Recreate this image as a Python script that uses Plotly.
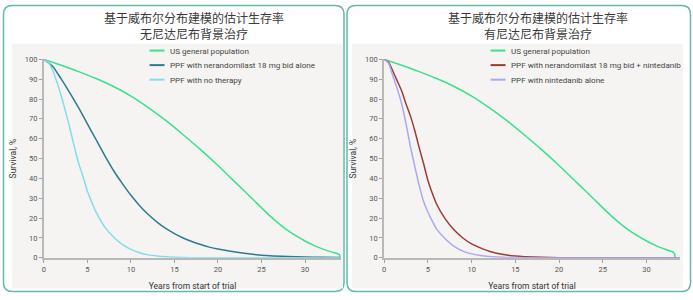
import plotly.graph_objects as go

# ---------------- data ----------------
years_us = [0, 2, 4, 6, 8, 10, 12, 14, 16, 18, 20, 22, 24, 26, 28, 30, 31, 32, 33]
surv_us = [100, 97, 93.8, 90.3, 86.3, 81.5, 75.7, 69.2, 62, 54.5, 46.5, 38, 29.5, 21, 13.8, 8.5, 6.3, 4.5, 3.0]
tail_years_left = [33.8, 33.95, 34.05]
tail_surv_left = [2.0, 1.6, 0]
tail_years_right = [33.2, 33.3, 33.8]
tail_surv_right = [2.1, 0, 0]

years_a = [0, 1, 2, 3, 4, 5, 6, 7, 8, 9, 10, 11, 12, 13, 14, 15, 16, 17, 18, 19, 20, 22, 24, 26, 28, 30, 32, 34]
surv_neran_alone = [100, 96.5, 90, 83, 75.5, 67.5, 59.5, 51.5, 44, 37.5, 31.5, 26.3, 21.8, 18, 14.8, 12.2, 10,
                    8.2, 6.7, 5.4, 4.4, 2.9, 1.8, 1.1, 0.7, 0.4, 0.25, 0.15]

years_b = [0, 0.5, 1, 1.5, 2, 2.5, 3, 3.5, 4, 4.5, 5, 5.5, 6, 7, 8, 9, 10, 11, 12, 13, 14, 15, 17, 20, 25, 34]
surv_no_therapy = [100, 98.5, 94.5, 88.5, 81.5, 73.5, 65, 56, 47.5, 41, 33.5, 28, 23, 15.5, 10.5, 6.8, 4.3, 2.6,
                   1.5, 0.9, 0.5, 0.3, 0.1, 0.03, 0, 0]

years_c = [0, 0.5, 1, 1.5, 2, 2.5, 3, 3.5, 4, 4.5, 5, 5.5, 6, 7, 8, 9, 10, 11, 12, 13, 14, 15, 16, 18, 20, 25, 33.8]
surv_neran_ninte = [100, 98.5, 94, 89, 84, 77.5, 71.5, 64, 55.5, 47.5, 39, 32.5, 27, 19.5, 14, 10, 7, 5, 3.3, 2.2,
                    1.4, 0.9, 0.6, 0.25, 0.1, 0.02, 0]

years_d = [0, 0.5, 1, 1.5, 2, 2.5, 3, 3.5, 4, 4.5, 5, 5.5, 6, 7, 8, 9, 10, 11, 12, 13, 14, 15, 17, 20, 33.8]
surv_ninte_alone = [100, 98, 91.5, 85, 77.5, 67.5, 56, 46, 36.5, 28.5, 23, 18.5, 14.5, 9.5, 5.8, 3.4, 2, 1.2, 0.7,
                    0.4, 0.2, 0.12, 0.04, 0, 0]

titles = ["基于威布尔分布建模的估计生存率<br>无尼达尼布背景治疗",
          "基于威布尔分布建模的估计生存率<br>有尼达尼布背景治疗"]
legend_left = ["US general population", "PPF with nerandomilast 18 mg bid alone", "PPF with no therapy"]
legend_right = ["US general population", "PPF with nerandomilast 18 mg bid + nintedanib", "PPF with nintedanib alone"]
y_ticks = list(range(0, 101, 10))
x_ticks = [0, 5, 10, 15, 20, 25, 30]

# ---------------- styling ----------------
W, H = 693, 300
GREEN = "#3ce08f"
TEAL = "#2e7b8b"
CYAN = "#86dbe8"
RED = "#9c3b37"
LAV = "#aaa8f2"
LATIN = "Roboto, 'Liberation Sans', sans-serif"
CJK = "'Noto Sans CJK SC', sans-serif"


def px(x):
    return x / W


def py(y):
    return (H - y) / H


def rrect(x0, y0, x1, y1, r):
    def P(x, y):
        return f"{px(x):.5f},{py(y):.5f}"
    return (f"M{P(x0 + r, y0)} L{P(x1 - r, y0)} Q{P(x1, y0)} {P(x1, y0 + r)} "
            f"L{P(x1, y1 - r)} Q{P(x1, y1)} {P(x1 - r, y1)} L{P(x0 + r, y1)} "
            f"Q{P(x0, y1)} {P(x0, y1 - r)} L{P(x0, y0 + r)} Q{P(x0, y0)} {P(x0 + r, y0)} Z")


fig = go.Figure()

line_w = 1.5


def add(x, y, name, color, xa, ya):
    fig.add_trace(go.Scatter(x=x, y=y, name=name, mode="lines",
                             line=dict(color=color, width=line_w, shape="spline", smoothing=0.6),
                             xaxis=xa, yaxis=ya, showlegend=False, hoverinfo="skip"))


# left panel
add(years_us + tail_years_left, surv_us + tail_surv_left, legend_left[0], GREEN, "x", "y")
add(years_a, surv_neran_alone, legend_left[1], TEAL, "x", "y")
add(years_b, surv_no_therapy, legend_left[2], CYAN, "x", "y")
# right panel
add(years_us + tail_years_right, surv_us + tail_surv_right, legend_right[0], GREEN, "x2", "y2")
add(years_c, surv_neran_ninte, legend_right[1], RED, "x2", "y2")
add(years_d, surv_ninte_alone, legend_right[2], LAV, "x2", "y2")

ydom = [py(261.7), py(57)]
left_dom = [px(42), px(42 + 34.15 * 8.73)]
right_dom = [px(383.3), px(383.3 + 33.8 * 8.77)]

axis_common = dict(showgrid=False, zeroline=False, showline=True, linecolor="#b8b8b8", linewidth=2,
                   ticks="outside", ticklen=3, tickwidth=1, tickcolor="#a0a0a0",
                   tickfont=dict(family=LATIN, size=7.5, color="#555555"))

xaxis_title = dict(text="Years from start of trial", font=dict(family=LATIN, size=8.5, color="#333333"), standoff=10)
yaxis_title = dict(text="Survival, %", font=dict(family=LATIN, size=8.5, color="#333333"), standoff=7)

fig.update_layout(
    width=W, height=H, margin=dict(l=0, r=0, t=0, b=0),
    paper_bgcolor="white", plot_bgcolor="rgba(0,0,0,0)",
    xaxis=dict(domain=left_dom, range=[0, 34.15], tickvals=x_ticks, anchor="y", title=xaxis_title, **axis_common),
    yaxis=dict(domain=ydom, range=[0, 100], tickvals=y_ticks, anchor="x", title=yaxis_title, **axis_common),
    xaxis2=dict(domain=right_dom, range=[0, 33.8], tickvals=x_ticks, anchor="y2", title=xaxis_title, **axis_common),
    yaxis2=dict(domain=ydom, range=[0, 100], tickvals=y_ticks, anchor="x2", title=yaxis_title, **axis_common),
    showlegend=False,
)

shapes = []
BORDER = "#63b9ab"
for (cx0, cx1, gx0, gx1) in [(1.5, 343, 10, 342), (346, 690.5, 351, 683)]:
    shapes.append(dict(type="path", path=rrect(cx0, 1.5, cx1, 296.5, 9), xref="paper", yref="paper",
                       line=dict(color=BORDER, width=1.5), fillcolor="white", layer="below"))
    shapes.append(dict(type="rect", x0=px(gx0), x1=px(gx1), y0=py(293), y1=py(41), xref="paper", yref="paper",
                       line=dict(width=0), fillcolor="#f5f4f2", layer="below"))

# legends (line sample + text)
for labels, colors, lx in [(legend_left, [GREEN, TEAL, CYAN], 148), (legend_right, [GREEN, RED, LAV], 490)]:
    for i, (lab, col) in enumerate(zip(labels, colors)):
        yy = 48 + 15 * i
        shapes.append(dict(type="line", x0=px(lx), x1=px(lx + 15), y0=py(yy), y1=py(yy), xref="paper",
                           yref="paper", line=dict(color=col, width=2)))
        fig.add_annotation(text=lab, x=px(lx + 18), y=py(yy), xref="paper", yref="paper", xanchor="left",
                           yanchor="middle", showarrow=False, font=dict(family=LATIN, size=8.1, color="#444444"))
fig.update_layout(shapes=shapes)

for t, cx in zip(titles, [193, 538]):
    fig.add_annotation(text=t, x=px(cx), y=py(22.5), xref="paper", yref="paper", xanchor="center",
                       yanchor="middle", showarrow=False, align="center",
                       font=dict(family=CJK, size=12, color="#3a3a3a"))

fig.write_html("out.html")
